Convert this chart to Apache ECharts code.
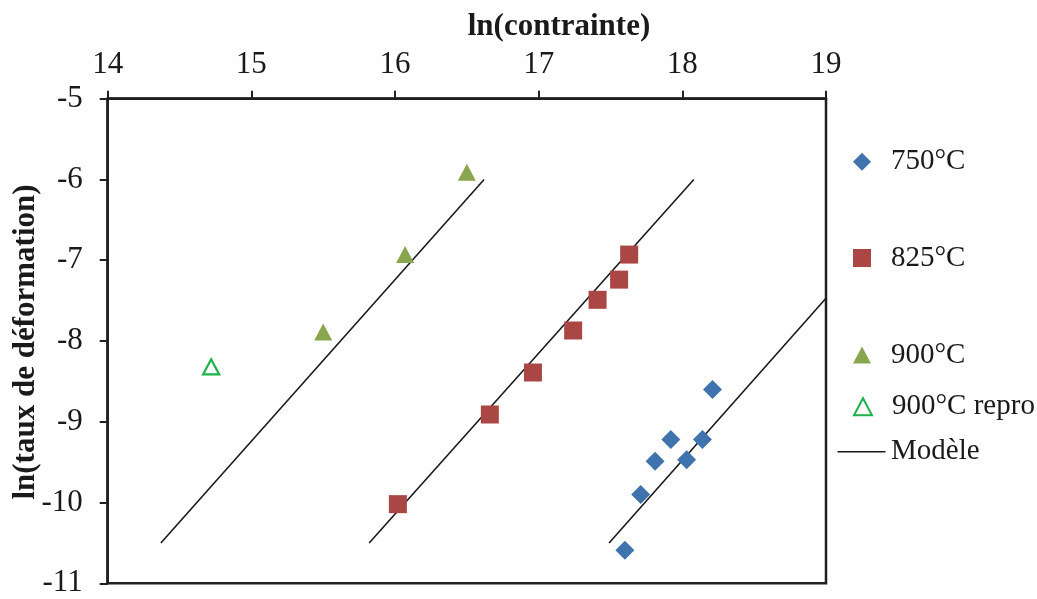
<!DOCTYPE html>
<html>
<head>
<meta charset="utf-8">
<script src="https://cdn.jsdelivr.net/npm/echarts@6/dist/echarts.min.js"></script>
<style>
  html, body { margin: 0; padding: 0; background: #fff; }
  #chart { width: 1037px; height: 599px; }
</style>
</head>
<body>
<div id="chart"></div>
<script>
// ---- Data ----
const xTicks = [14, 15, 16, 17, 18, 19];
const yTicks = [-11, -10, -9, -8, -7, -6, -5];

const t750X = [17.60, 17.71, 17.81, 17.92, 18.03, 18.14, 18.21];
const t750Y = [-10.59, -9.90, -9.49, -9.22, -9.47, -9.22, -8.60];

const t825X = [16.02, 16.66, 16.96, 17.24, 17.41, 17.56, 17.63];
const t825Y = [-10.02, -8.91, -8.39, -7.87, -7.49, -7.24, -6.93];

const t900X = [15.50, 16.07, 16.50];
const t900Y = [-7.89, -6.93, -5.91];

const reproX = [14.72];
const reproY = [-8.32];

const model900X = [14.37, 16.62];
const model900Y = [-10.5, -6.0];
const model825X = [15.82, 18.08];
const model825Y = [-10.5, -6.0];
const model750X = [17.49, 19.0];
const model750Y = [-10.5, -7.47];

const seriesNames = ['750°C', '825°C', '900°C', '900°C repro', 'Modèle'];
const xTitle = 'ln(contrainte)';
const yTitle = 'ln(taux de déformation)';

// ---- helpers ----
const zip = (xs, ys) => xs.map((x, i) => [x, ys[i]]);
const FONT = "'Liberation Serif', 'Times New Roman', serif";

const chart = echarts.init(document.getElementById('chart'), null, { renderer: 'canvas' });

const gridLeft = 107.7, gridRight = 826, gridTop = 98.7, gridBottom = 583.3;

function legendAt(item, cx, cy, iw, ih) {
  return {
    data: [item],
    left: cx - iw / 2,
    top: cy - 15,
    padding: 0,
    itemWidth: iw,
    itemHeight: ih,
    itemGap: 0,
    selectedMode: false,
    textStyle: {
      fontFamily: FONT, fontSize: 29, color: '#1a1a1a', lineHeight: 30,
      padding: [0, 0, 0, Math.max(0, 891 - (cx + iw / 2) - 5)]
    }
  };
}

const option = {
  animation: false,
  backgroundColor: '#fff',
  grid: {
    left: gridLeft, top: gridTop,
    width: gridRight - gridLeft, height: gridBottom - gridTop,
    containLabel: false, outerBoundsMode: 'none',
    show: true, borderColor: '#231f20', borderWidth: 2.5, backgroundColor: 'transparent'
  },
  xAxis: {
    type: 'value', position: 'top',
    min: xTicks[0], max: xTicks[xTicks.length - 1], interval: 1,
    axisLine: { show: true, onZero: false, lineStyle: { color: '#231f20', width: 2.5 } },
    axisTick: { show: true, inside: false, length: 8, lineStyle: { color: '#231f20', width: 2 } },
    axisLabel: { fontFamily: FONT, fontSize: 31, color: '#1a1a1a', margin: 18 },
    splitLine: { show: false }
  },
  yAxis: {
    type: 'value',
    min: yTicks[0], max: yTicks[yTicks.length - 1], interval: 1,
    axisLine: { show: true, onZero: false, lineStyle: { color: '#231f20', width: 2.5 } },
    axisTick: { show: true, inside: false, length: 8, lineStyle: { color: '#231f20', width: 2 } },
    axisLabel: { fontFamily: FONT, fontSize: 31, color: '#1a1a1a', margin: 25 },
    splitLine: { show: false }
  },
  graphic: [{
    type: 'text',
    style: {
      text: xTitle, x: 559, y: 27,
      font: "bold 31px 'Liberation Serif', serif",
      fill: '#1a1a1a', align: 'center', verticalAlign: 'middle'
    }
  }, {
    type: 'text',
    x: 26, y: 342, rotation: Math.PI / 2,
    style: {
      text: yTitle, x: 0, y: 0,
      font: "bold 31px 'Liberation Serif', serif",
      fill: '#1a1a1a', align: 'center', verticalAlign: 'middle'
    }
  }],
  legend: [
    legendAt(seriesNames[0], 862, 161.7, 18, 18),
    legendAt(seriesNames[1], 862, 258, 18, 18),
    legendAt(seriesNames[2], 862, 355, 18, 17),
    legendAt(seriesNames[3], 862, 406.7, 18, 17),
    legendAt({ name: seriesNames[4], icon: 'rect', itemStyle: { color: '#1a1a1a' } }, 861.5, 451.7, 48, 1.6)
  ],
  series: [
    {
      name: seriesNames[4], type: 'line', data: zip(model900X, model900Y),
      symbol: 'none', showSymbol: false, clip: true, silent: true,
      lineStyle: { color: '#1a1a1a', width: 1.6 }, itemStyle: { color: '#1a1a1a' }, z: 2
    },
    {
      name: seriesNames[4], type: 'line', data: zip(model825X, model825Y),
      symbol: 'none', showSymbol: false, clip: true, silent: true,
      lineStyle: { color: '#1a1a1a', width: 1.6 }, itemStyle: { color: '#1a1a1a' }, z: 2
    },
    {
      name: seriesNames[4], type: 'line', data: zip(model750X, model750Y),
      symbol: 'none', showSymbol: false, clip: true, silent: true,
      lineStyle: { color: '#1a1a1a', width: 1.6 }, itemStyle: { color: '#1a1a1a' }, z: 2
    },
    {
      name: seriesNames[0], type: 'scatter', data: zip(t750X, t750Y),
      symbol: 'diamond', symbolSize: 19,
      itemStyle: { color: '#3E73AE', opacity: 1 }, z: 3
    },
    {
      name: seriesNames[1], type: 'scatter', data: zip(t825X, t825Y),
      symbol: 'rect', symbolSize: 18,
      itemStyle: { color: '#AA4643', opacity: 1 }, z: 3
    },
    {
      name: seriesNames[2], type: 'scatter', data: zip(t900X, t900Y),
      symbol: 'triangle', symbolSize: [18, 17],
      itemStyle: { color: '#89A54E', opacity: 1 }, z: 3
    },
    {
      name: seriesNames[3], type: 'scatter', data: zip(reproX, reproY),
      symbol: 'triangle', symbolSize: [16, 15],
      itemStyle: { color: '#ffffff', borderColor: '#1DB34A', borderWidth: 2.2, opacity: 1 }, z: 3
    }
  ]
};

chart.setOption(option);
</script>
</body>
</html>
